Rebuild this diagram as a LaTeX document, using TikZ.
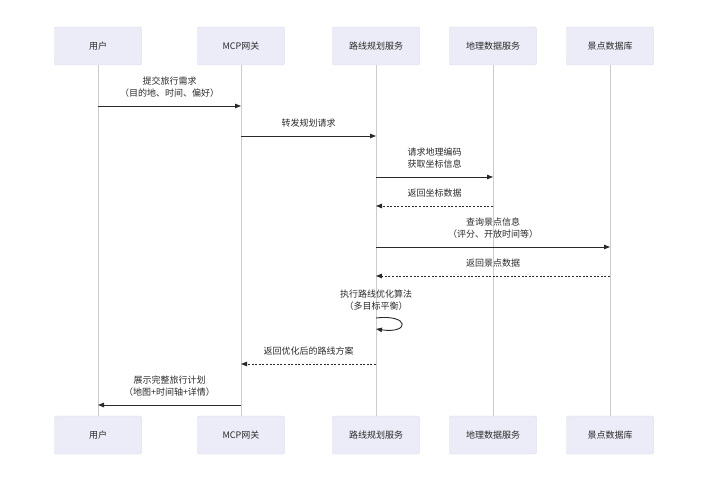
\documentclass[tikz,border=0pt]{standalone}
\usepackage{fontspec}
\setmainfont{Noto Sans CJK SC}
\usetikzlibrary{arrows.meta}
\definecolor{actfill}{HTML}{ECECF8}
\definecolor{actline}{HTML}{D6D6EA}
\definecolor{txt}{HTML}{2A2A2A}
\definecolor{life}{HTML}{CCCCCC}

\begin{document}
\begin{tikzpicture}[x=1pt,y=-1pt,font=\fontsize{9}{11.5}\selectfont,text=txt,
		actor/.style={draw=actline,fill=actfill,rounded corners=2pt,minimum width=87pt,minimum height=38pt},
		msg/.style={txt,line width=0.9pt,-{Triangle[length=6pt,width=4.5pt]}},
		reply/.style={msg,dash pattern=on 2pt off 1.6pt},
		lbl/.style={align=center,text=txt,above=5pt}]
			\useasboundingbox (0,0) rectangle (727,500);
			\foreach \i/\x/\t in {1/98/用户,2/241/MCP网关,3/376/路线规划服务,4/493/地理数据服务,5/610/景点数据库}{
				\node[actor] (t\i) at (\x,46) {\t};
				\node[actor] (b\i) at (\x,435) {\t};
				\draw[life,line width=0.8pt] (t\i) -- (b\i);
			}
			
			\draw[msg] (t1 |- 0,106) -- (t2 |- 0,106) node[midway,lbl] {提交旅行需求\\（目的地、时间、偏好）};
			\draw[msg] (t2 |- 0,136) -- (t3 |- 0,136) node[midway,lbl] {转发规划请求};
			\draw[msg] (t3 |- 0,177) -- (t4 |- 0,177) node[midway,lbl] {请求地理编码\\获取坐标信息};
			\draw[reply] (t4 |- 0,206) -- (t3 |- 0,206) node[midway,lbl] {返回坐标数据};
			\draw[msg] (t3 |- 0,247) -- (t5 |- 0,247) node[midway,lbl] {查询景点信息\\（评分、开放时间等）};
			\draw[reply] (t5 |- 0,276) -- (t3 |- 0,276) node[midway,lbl] {返回景点数据};
			
			% self call
			\node[align=center] (opt) at (376,300) {执行路线优化算法\\（多目标平衡）};
			\draw[msg] (t3 |- 0,318) .. controls +(34,-4) and +(34,5) .. (t3 |- 0,329);
			
			\draw[reply] (t3 |- 0,364) -- (t2 |- 0,364) node[midway,lbl] {返回优化后的路线方案};
			\draw[msg] (t2 |- 0,405) -- (t1 |- 0,405) node[midway,lbl] {展示完整旅行计划\\（地图+时间轴+详情）};
		\end{tikzpicture}
\end{document}
